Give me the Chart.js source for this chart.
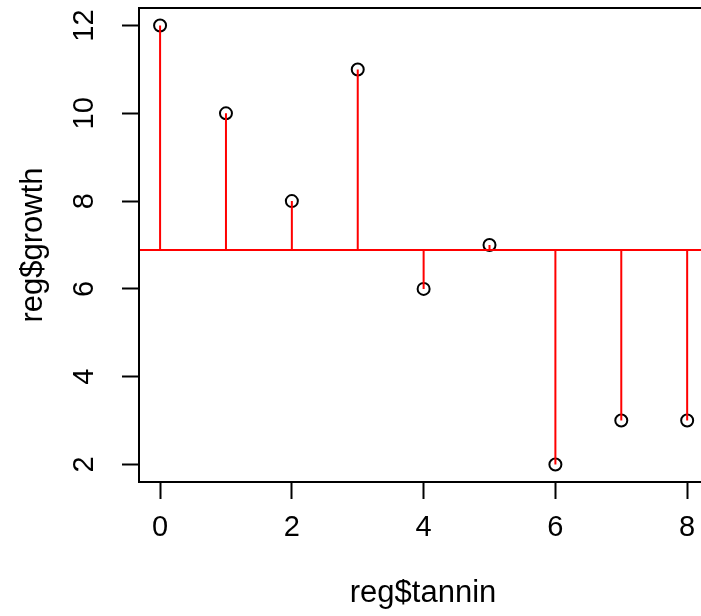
<!DOCTYPE html>
<html>
<head>
<meta charset="utf-8">
<script src="https://cdn.jsdelivr.net/npm/chart.js@4.4.1/dist/chart.umd.min.js"></script>
<style>
  html, body { margin: 0; padding: 0; background: #fff; overflow: hidden; }
  #wrap { width: 701px; height: 616px; }
</style>
</head>
<body>
<div id="wrap"><canvas id="chart" width="701" height="616"></canvas></div>
<script>
// tannin concentration vs. growth
const tannin = [0, 1, 2, 3, 4, 5, 6, 7, 8];
const growth = [12, 10, 8, 11, 6, 7, 2, 3, 3];
const xTicks = [0, 2, 4, 6, 8];
const yTicks = [2, 4, 6, 8, 10, 12];
const xTitle = 'reg$tannin';
const yTitle = 'reg$growth';

const FONT = '"Liberation Sans", Arial, sans-serif';
const TICK_SIZE = 29;
const TITLE_SIZE = 31;

// axis limits (R style 4% padding, right side runs off the canvas)
const xMin = -0.32, xMax = 8.21;
const yMin = 1.6, yMax = 12.4;

const meanGrowth = growth.reduce((a, b) => a + b, 0) / growth.length;

// residual sticks: point -> mean, broken by gaps
const sticks = [];
tannin.forEach((t, i) => {
  sticks.push({ x: t, y: growth[i] });
  sticks.push({ x: t, y: meanGrowth });
  sticks.push({ x: t, y: null });
});

const boxAndLabels = {
  id: 'boxAndLabels',
  afterDraw(chart) {
    const { ctx, chartArea, scales } = chart;
    ctx.save();
    ctx.strokeStyle = '#000';
    ctx.lineWidth = 2;
    ctx.strokeRect(chartArea.left, chartArea.top, chartArea.right - chartArea.left + 20, chartArea.bottom - chartArea.top);

    ctx.fillStyle = '#000';
    ctx.font = TICK_SIZE + 'px ' + FONT;
    ctx.textAlign = 'center';
    ctx.textBaseline = 'middle';
    // y tick labels, parallel to the axis
    yTicks.forEach(v => {
      ctx.save();
      ctx.translate(chartArea.left - 54, scales.y.getPixelForValue(v));
      ctx.rotate(-Math.PI / 2);
      ctx.fillText(String(v), 0, 0);
      ctx.restore();
    });

    // axis titles
    ctx.font = TITLE_SIZE + 'px ' + FONT;
    ctx.textBaseline = 'alphabetic';
    ctx.fillText(xTitle, 423, 602);
    ctx.save();
    ctx.translate(42, (chartArea.top + chartArea.bottom) / 2);
    ctx.rotate(-Math.PI / 2);
    ctx.fillText(yTitle, 0, 0);
    ctx.restore();
    ctx.restore();
  }
};

new Chart(document.getElementById('chart'), {
  type: 'scatter',
  data: {
    datasets: [
      {
        data: sticks,
        showLine: true,
        spanGaps: false,
        borderColor: '#ff0000',
        borderWidth: 2,
        pointRadius: 0,
        order: 0
      },
      {
        data: [{ x: xMin, y: meanGrowth }, { x: xMax, y: meanGrowth }],
        showLine: true,
        borderColor: '#ff0000',
        borderWidth: 2,
        pointRadius: 0,
        order: 1
      },
      {
        data: tannin.map((t, i) => ({ x: t, y: growth[i] })),
        pointStyle: 'circle',
        pointRadius: 6,
        borderColor: '#000',
        backgroundColor: 'rgba(0,0,0,0)',
        borderWidth: 2,
        order: 2
      }
    ]
  },
  options: {
    responsive: false,
    devicePixelRatio: 1,
    animation: false,
    layout: { autoPadding: false, padding: { top: 8, right: 0, left: 0, bottom: 0 } },
    plugins: { legend: { display: false }, tooltip: { enabled: false } },
    scales: {
      x: {
        type: 'linear',
        min: xMin,
        max: xMax,
        afterBuildTicks: s => { s.ticks = xTicks.map(v => ({ value: v })); },
        afterFit: s => { s.height = 134; s.paddingLeft = 0; s.paddingRight = 0; },
        border: { display: false },
        grid: { drawOnChartArea: false, drawTicks: true, tickLength: 17, tickWidth: 2, tickColor: '#000' },
        ticks: { color: '#000', padding: 12, maxRotation: 0, font: { family: FONT, size: TICK_SIZE } }
      },
      y: {
        type: 'linear',
        min: yMin,
        max: yMax,
        afterBuildTicks: s => { s.ticks = yTicks.map(v => ({ value: v })); },
        afterFit: s => { s.width = 139; s.paddingTop = 0; s.paddingBottom = 0; },
        border: { display: false },
        grid: { drawOnChartArea: false, drawTicks: true, tickLength: 17, tickWidth: 2, tickColor: '#000' },
        ticks: { display: false }
      }
    }
  },
  plugins: [boxAndLabels]
});
</script>
</body>
</html>
